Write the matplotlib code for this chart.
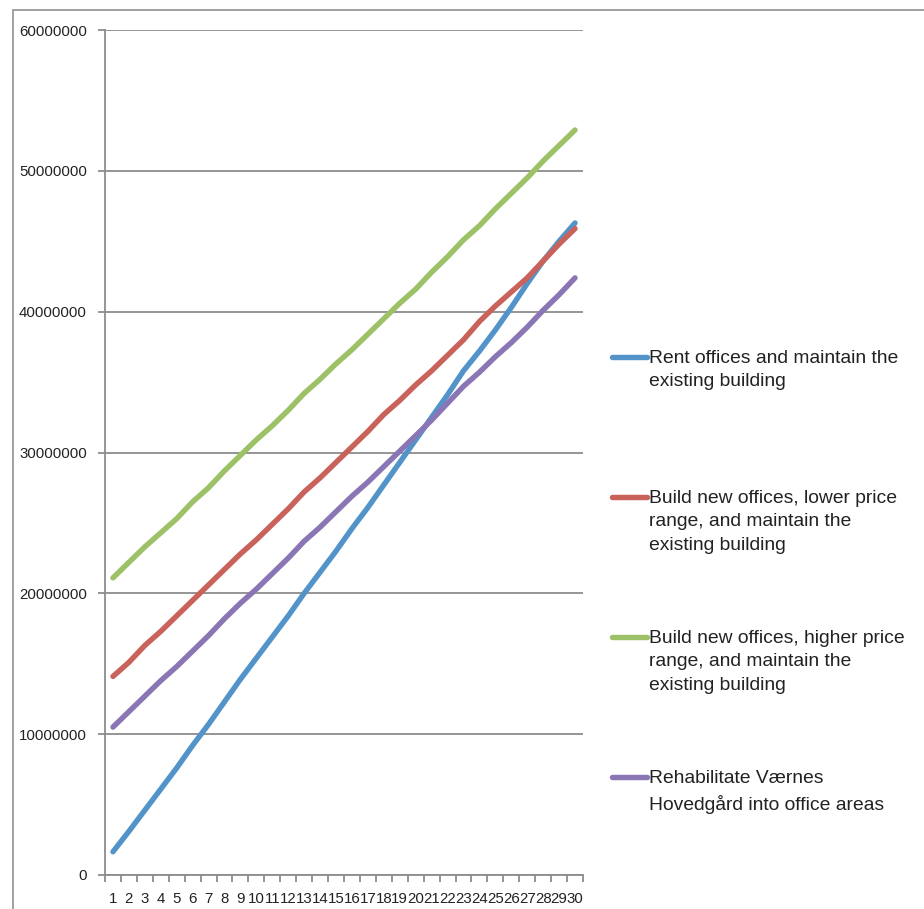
import matplotlib
matplotlib.use("Agg")
import matplotlib.pyplot as plt
from matplotlib.lines import Line2D
from matplotlib.patches import Rectangle

plt.rcParams['font.family'] = ['Liberation Sans', 'DejaVu Sans']

# years 1..30
years = list(range(1, 31))

rent = [1.65, 3.1, 4.6, 6.1, 7.6, 9.2, 10.7, 12.3, 13.9, 15.4,
        16.9, 18.4, 20.0, 21.5, 23.0, 24.6, 26.1, 27.7, 29.3, 30.9,
        32.5, 34.1, 35.8, 37.2, 38.7, 40.3, 42.0, 43.6, 45.0, 46.3]
build_low = [14.1, 15.1, 16.3, 17.3, 18.4, 19.5, 20.6, 21.7, 22.8, 23.8,
             24.9, 26.0, 27.2, 28.2, 29.3, 30.4, 31.5, 32.7, 33.7, 34.8,
             35.8, 36.9, 38.0, 39.3, 40.4, 41.4, 42.4, 43.6, 44.8, 45.9]
build_high = [21.1, 22.2, 23.3, 24.3, 25.3, 26.5, 27.5, 28.7, 29.8, 30.9,
              31.9, 33.0, 34.2, 35.2, 36.3, 37.3, 38.4, 39.5, 40.6, 41.6,
              42.8, 43.9, 45.1, 46.1, 47.3, 48.4, 49.5, 50.7, 51.8, 52.9]
rehab = [10.5, 11.6, 12.7, 13.8, 14.8, 15.9, 17.0, 18.2, 19.3, 20.3,
         21.4, 22.5, 23.7, 24.7, 25.8, 26.9, 27.9, 29.0, 30.1, 31.2,
         32.3, 33.5, 34.7, 35.7, 36.8, 37.8, 38.9, 40.1, 41.2, 42.4]

labels = ["Rent offices and maintain the\nexisting building",
          "Build new offices, lower price\nrange, and maintain the\nexisting building",
          "Build new offices, higher price\nrange, and maintain the\nexisting building",
          "Rehabilitate Værnes\nHovedgård into office areas"]
colors = ['#5294C9', '#C9625A', '#9CC167', '#8A76B4']
series = [rent, build_low, build_high, rehab]

W, H = 924, 909
fig = plt.figure(figsize=(W / 100, H / 100), dpi=100)
ax = fig.add_axes([105 / W, 1 - 875 / H, (583 - 105) / W, (875 - 30) / H])

for vals, c in zip(series, colors):
    ax.plot(years, [v * 1e6 for v in vals], color=c, lw=3.9,
            solid_capstyle='round', solid_joinstyle='round', zorder=3)

grey = '#8c8c8c'
ax.set_xlim(0.5, 30.5)
ax.set_ylim(0, 60e6)
ax.set_yticks(range(0, 60000001, 10000000))
ax.set_yticklabels([str(v) for v in range(0, 60000001, 10000000)])
ax.yaxis.grid(True, color=grey, lw=1.3)
ax.set_axisbelow(True)

ax.set_xticks([i + 0.5 for i in range(0, 31)])
ax.set_xticklabels([])
ax.set_xticks(years, minor=True)
ax.set_xticklabels([str(y) for y in years], minor=True)
ax.tick_params(axis='x', which='minor', length=0, pad=12, labelsize=10.8, labelcolor='#222222')
ax.tick_params(axis='x', which='major', length=5, width=1.3, color=grey)
ax.tick_params(axis='y', length=5, width=1.3, color=grey, pad=8, labelsize=10.8, labelcolor='#222222')

for s in ['top', 'right']:
    ax.spines[s].set_visible(False)
for s in ['left', 'bottom']:
    ax.spines[s].set_color(grey)
    ax.spines[s].set_linewidth(1.3)

# legend on the right, handle next to the first text line
for i, (lab, c) in enumerate(zip(labels, colors)):
    yc = 357 + i * 140
    fig.add_artist(Line2D([612 / W, 647 / W], [1 - yc / H, 1 - yc / H], color=c,
                          lw=3.9, solid_capstyle='round', transform=fig.transFigure))
    fig.text(649 / W, 1 - (yc - 7) / H, lab, fontsize=13.9, color='#222222',
             va='top', ha='left', linespacing=1.5)

# outer chart frame
fig.add_artist(Rectangle((12.5 / W, -0.1), 1.2, 1.1 - 9.5 / H, transform=fig.transFigure,
                         fill=False, edgecolor='#999999', lw=1.3))

fig.savefig('out.png', dpi=100)
